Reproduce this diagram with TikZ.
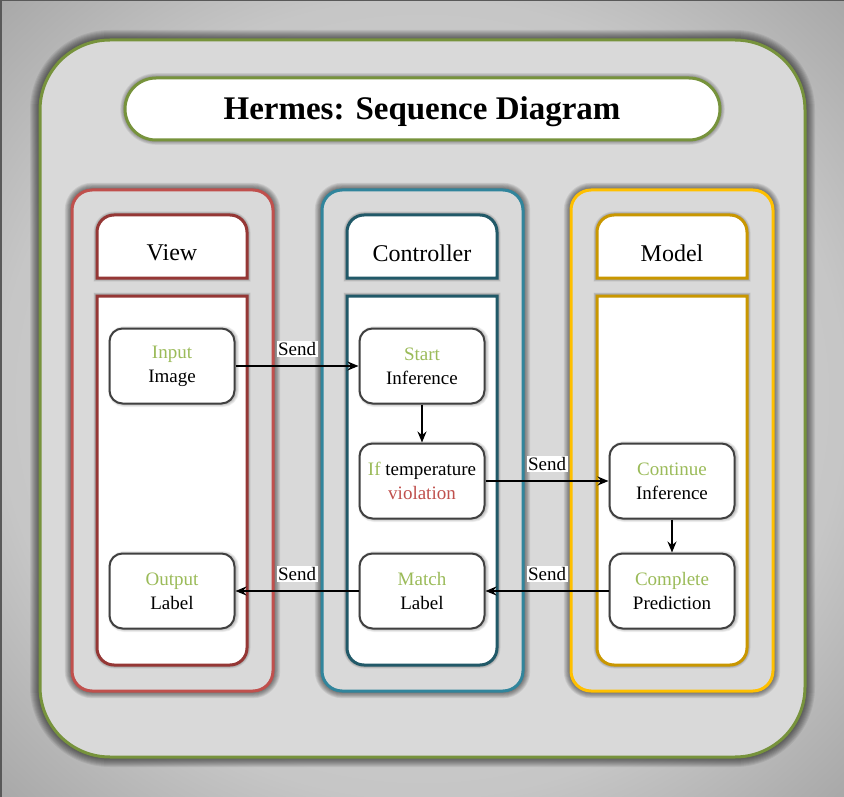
\documentclass[tikz,border=0pt]{standalone}
\usepackage{fontspec}
\setmainfont{Liberation Serif}
\usetikzlibrary{arrows.meta}
\definecolor{framegreen}{HTML}{77933C}
\definecolor{panelgray}{HTML}{D9D9D9}
\definecolor{viewout}{HTML}{C0504D}
\definecolor{viewin}{HTML}{953735}
\definecolor{ctrlout}{HTML}{31859C}
\definecolor{ctrlin}{HTML}{215968}
\definecolor{modout}{HTML}{FFC000}
\definecolor{modin}{HTML}{C99700}
\definecolor{txtgreen}{HTML}{9BBB59}
\definecolor{txtred}{HTML}{C0504D}
\definecolor{nodeborder}{HTML}{404040}
\definecolor{bgc}{HTML}{D4D4D4}
\definecolor{bge}{HTML}{C6C6C6}
\definecolor{bgk}{HTML}{A8A8A8}
\pgfdeclareradialshading{bgshade}{\pgfpoint{0bp}{0bp}}{color(0bp)=(bgc); color(25bp)=(bge); color(35.4bp)=(bgk); color(50bp)=(bgk)}
% #1 steps, #2 step width, #3 opacity, #4 style, #5 path
\newcommand\glowdraw[5]{%
  \foreach \k in {1,...,#1}{\draw[#4, draw=black, fill=none, line width=\k*#2, opacity=#3] #5;}%
  \draw[#4] #5;}
\tikzset{
  column/.style={line width=3pt, fill=panelgray, rounded corners=20pt},
  part/.style={line width=3pt, fill=white},
  headtext/.style={font=\fontsize{24}{28}\selectfont, inner sep=0pt},
  stepbox/.style={draw=nodeborder, line width=2pt, fill=white, rounded corners=13pt,
    minimum width=125pt, minimum height=75pt, align=center, inner sep=2pt,
    font=\fontsize{19}{24}\selectfont},
  stepglow/.style={draw=black, line width=#1, opacity=0.06, rounded corners=13pt},
  msg/.style={line width=1.6pt, -{Stealth[length=11pt,width=9pt]}},
  sendlabel/.style={above, yshift=8pt, fill=white, inner sep=1.5pt, font=\fontsize{19}{20}\selectfont}
}
\newcommand\stepshadow[2]{\foreach \k in {1,...,4}{\draw[stepglow=\k*1.5pt] ({#1-61},{#2-36}) rectangle ({#1+64},{#2+39});}}
\begin{document}
\begin{tikzpicture}[x=1pt,y=-1pt]
\useasboundingbox (0,0) rectangle (844,797);
\shade[shading=bgshade] (0,0) rectangle (844,797);
\draw[line width=2pt, black!65] (0.5,797) -- (0.5,0.5) -- (844,0.5);

% main frame
\glowdraw{10}{2pt}{0.07}{draw=framegreen, fill=panelgray, line width=3pt, rounded corners=70pt}{(40,40) rectangle (805,757)}

% title
\glowdraw{6}{1.6pt}{0.07}{draw=framegreen, fill=white, line width=3pt, rounded corners=31pt}{(125,78) rectangle (720,140)}
\node[font=\bfseries\fontsize{33}{36}\selectfont] (title) at (422,112) {Hermes: Sequence Diagram};

% View column
\glowdraw{8}{1.8pt}{0.08}{column, draw=viewout}{(72,190) rectangle (273,691)}
\glowdraw{5}{1.4pt}{0.07}{part, draw=viewin}{(97,278) [rounded corners=17pt] -- (97,215) -- (247,215) [sharp corners] -- (247,278) -- cycle}
\glowdraw{5}{1.4pt}{0.07}{part, draw=viewin}{(97,296) [rounded corners=17pt] -- (97,665) -- (247,665) [sharp corners] -- (247,296) -- cycle}
\node[headtext] (viewt) at (172,253) {View};

% Controller column
\glowdraw{8}{1.8pt}{0.08}{column, draw=ctrlout}{(322,190) rectangle (523,691)}
\glowdraw{5}{1.4pt}{0.07}{part, draw=ctrlin}{(347,278) [rounded corners=17pt] -- (347,215) -- (497,215) [sharp corners] -- (497,278) -- cycle}
\glowdraw{5}{1.4pt}{0.07}{part, draw=ctrlin}{(347,296) [rounded corners=17pt] -- (347,665) -- (497,665) [sharp corners] -- (497,296) -- cycle}
\node[headtext] (ctrlt) at (422,253) {Controller};

% Model column
\glowdraw{8}{1.8pt}{0.08}{column, draw=modout}{(571,190) rectangle (773,691)}
\glowdraw{5}{1.4pt}{0.07}{part, draw=modin}{(597,278) [rounded corners=17pt] -- (597,215) -- (747,215) [sharp corners] -- (747,278) -- cycle}
\glowdraw{5}{1.4pt}{0.07}{part, draw=modin}{(597,296) [rounded corners=17pt] -- (597,665) -- (747,665) [sharp corners] -- (747,296) -- cycle}
\node[headtext] (modt) at (672,253) {Model};

% step shadows
\stepshadow{172}{365}
\stepshadow{422}{365}
\stepshadow{422}{480}
\stepshadow{672}{480}
\stepshadow{672}{590}
\stepshadow{422}{590}
\stepshadow{172}{590}

% steps
\node[stepbox] (inp) at (172,366) {\textcolor{txtgreen}{Input}\\Image};
\node[stepbox] (start) at (422,366) {\textcolor{txtgreen}{Start}\\Inference};
\node[stepbox] (iftemp) at (422,481) {\textcolor{txtgreen}{If} temperature\\\textcolor{txtred}{violation}};
\node[stepbox] (cont) at (672,481) {\textcolor{txtgreen}{Continue}\\Inference};
\node[stepbox] (compl) at (672,591) {\textcolor{txtgreen}{Complete}\\Prediction};
\node[stepbox] (match) at (422,591) {\textcolor{txtgreen}{Match}\\Label};
\node[stepbox] (outp) at (172,591) {\textcolor{txtgreen}{Output}\\Label};

% messages
\draw[msg] (inp) -- node[sendlabel] {Send} (start);
\draw[msg] (start) -- (iftemp);
\draw[msg] (iftemp) -- node[sendlabel] {Send} (cont);
\draw[msg] (cont) -- (compl);
\draw[msg] (compl) -- node[sendlabel] {Send} (match);
\draw[msg] (match) -- node[sendlabel] {Send} (outp);
\end{tikzpicture}
\end{document}
